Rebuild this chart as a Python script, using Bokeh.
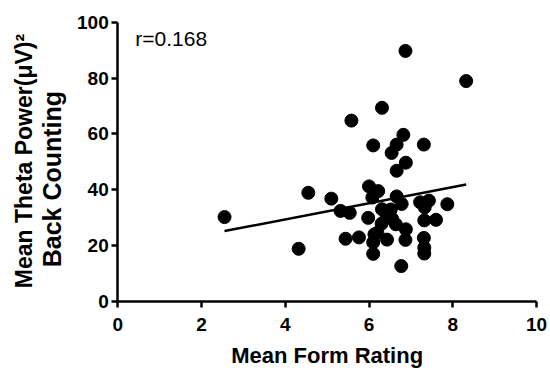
import numpy as np
from math import pi
from bokeh.plotting import figure
from bokeh.models import Label, Range1d, FixedTicker, LinearAxis
from bokeh.embed import file_html
from bokeh.resources import INLINE

# Mean form rating vs. mean theta power during back counting
form_rating = [6.87, 8.32, 6.31, 5.58, 6.82, 6.10, 6.66, 7.31, 6.54, 6.88,
               6.66, 6.00, 6.22, 4.55, 5.10, 6.08, 6.66, 6.78, 7.22, 7.43,
               7.33, 7.87, 5.32, 5.54, 6.31, 6.52, 6.42, 5.98, 6.55, 7.32,
               7.60, 2.55, 6.30, 6.64, 6.88, 6.20, 6.13, 6.43, 5.44, 5.76,
               6.10, 6.87, 7.31, 7.32, 7.32, 4.32, 6.10, 6.77]
theta_power = [89.8, 79.0, 69.4, 64.8, 59.7, 55.9, 56.2, 56.2, 53.2, 49.7,
               46.8, 41.2, 39.5, 38.9, 36.8, 37.2, 37.6, 34.9, 35.5, 36.1,
               33.7, 34.8, 32.4, 31.7, 33.0, 32.9, 30.8, 29.9, 29.6, 29.0,
               29.2, 30.2, 27.8, 27.6, 25.8, 24.5, 24.0, 22.1, 22.4, 22.9,
               21.1, 22.0, 22.7, 19.2, 17.1, 18.8, 17.0, 12.6]
r_value = 0.168

x_ticks = [0, 2, 4, 6, 8, 10]
y_ticks = [0, 20, 40, 60, 80, 100]

# least-squares line across the observed rating range
slope, intercept = np.polyfit(form_rating, theta_power, 1)
fit_x = [min(form_rating), max(form_rating)]
fit_y = [slope * v + intercept for v in fit_x]

FONT = "Liberation Sans"

# the frame fills the canvas; axes sit at x=0 / y=0 inside it so the
# titles can be placed freely in data space around them
p = figure(width=550, height=368, output_backend="svg", toolbar_location=None,
           x_range=Range1d(-2.80, 10.334), y_range=Range1d(-24.15, 107.9),
           x_axis_type=None, y_axis_type=None, min_border=0)
p.outline_line_color = None
p.background_fill_color = "white"
p.border_fill_color = "white"

xaxis = LinearAxis(fixed_location=0, bounds=(0, 10),
                   ticker=FixedTicker(ticks=x_ticks))
yaxis = LinearAxis(fixed_location=0, bounds=(0, 100),
                   ticker=FixedTicker(ticks=y_ticks))
for ax in (xaxis, yaxis):
    ax.axis_line_width = 2.5
    ax.axis_line_color = "black"
    ax.major_tick_line_width = 2.5
    ax.major_tick_line_color = "black"
    ax.major_tick_out = 6
    ax.major_tick_in = 0
    ax.minor_tick_out = 0
    ax.minor_tick_in = 0
    ax.major_label_text_font = FONT
    ax.major_label_text_font_style = "bold"
    ax.major_label_text_font_size = "19px"
    ax.major_label_text_color = "black"
xaxis.major_label_standoff = 11
yaxis.major_label_standoff = 3
p.add_layout(xaxis, "below")
p.add_layout(yaxis, "left")

p.line(fit_x, fit_y, line_width=2.5, color="black")
p.scatter(form_rating, theta_power, size=13, color="black")

p.add_layout(Label(x=0.42, y=94.4, text=f"r={r_value}", text_font=FONT,
                   text_font_size="21px", text_color="black",
                   text_baseline="alphabetic"))

p.add_layout(Label(x=5, y=-19.6, text="Mean Form Rating", text_font=FONT,
                   text_font_size="22px", text_font_style="bold",
                   text_color="black", text_align="center",
                   text_baseline="alphabetic"))

p.add_layout(Label(x=-2.25, y=50.3, angle=pi / 2,
                   text="Mean Theta Power(\u03bcV)\u00b2", text_font=FONT,
                   text_font_size="23px", text_font_style="bold",
                   text_color="black", text_align="center",
                   text_baseline="alphabetic"))
p.add_layout(Label(x=-1.56, y=43.8, angle=pi / 2,
                   text="Back Counting", text_font=FONT,
                   text_font_size="25px", text_font_style="bold",
                   text_color="black", text_align="center",
                   text_baseline="alphabetic"))

open("out.html", "w").write(file_html(p, INLINE))
